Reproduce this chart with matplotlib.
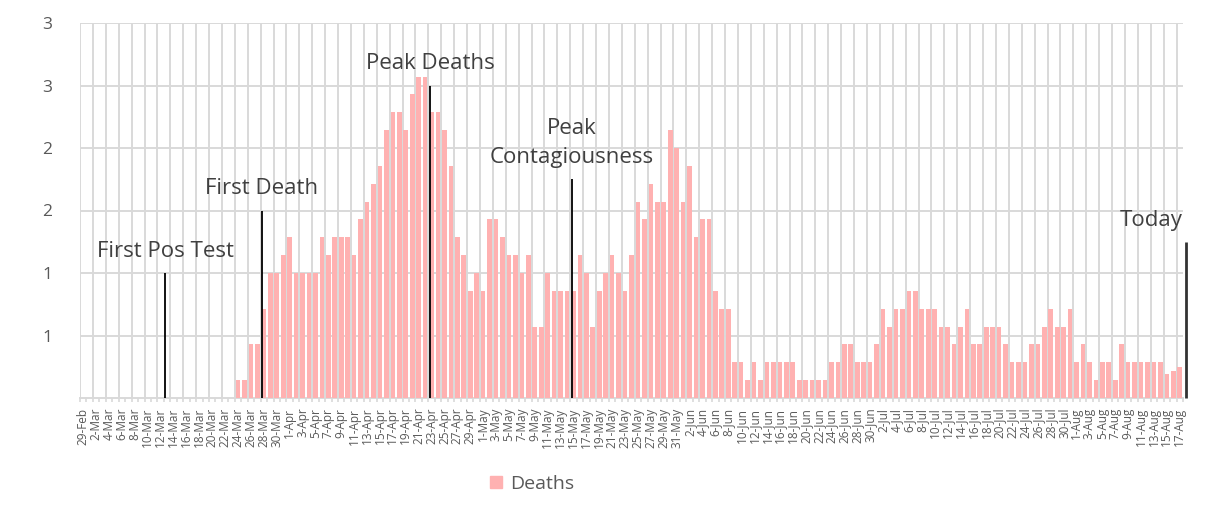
import matplotlib
matplotlib.use("Agg")
import matplotlib.pyplot as plt
import numpy as np
import pandas as pd

plt.rcParams['font.family'] = ['Open Sans', 'DejaVu Sans']

# ---- data ----
start_date = "2020-02-29"
end_date = "2020-08-17"
dates = pd.date_range(start_date, end_date, freq="D")
categories = [f"{d.day}-{d.strftime('%b')}" for d in dates]

deaths = [
    # 29-Feb .. 23-Mar
    0, 0, 0, 0, 0, 0, 0, 0, 0, 0, 0, 0, 0, 0, 0, 0, 0, 0, 0, 0, 0, 0, 0, 0,
    # 24-Mar .. 31-Mar
    0.143, 0.143, 0.429, 0.429, 0.714, 1.0, 1.0, 1.143,
    # 1-Apr .. 30-Apr
    1.286, 1.0, 1.0, 1.0, 1.0, 1.286, 1.143, 1.286, 1.286, 1.286,
    1.143, 1.429, 1.571, 1.714, 1.857, 2.143, 2.286, 2.286, 2.143, 2.429,
    2.571, 2.571, 2.286, 2.286, 2.143, 1.857, 1.286, 1.143, 0.857, 1.0,
    # 1-May .. 31-May
    0.857, 1.429, 1.429, 1.286, 1.143, 1.143, 1.0, 1.143, 0.571, 0.571,
    1.0, 0.857, 0.857, 0.857, 0.857, 1.143, 1.0, 0.571, 0.857, 1.0,
    1.143, 1.0, 0.857, 1.143, 1.571, 1.429, 1.714, 1.571, 1.571, 2.143,
    2.0,
    # 1-Jun .. 30-Jun
    1.571, 1.857, 1.286, 1.429, 1.429, 0.857, 0.714, 0.714, 0.286, 0.286,
    0.143, 0.286, 0.143, 0.286, 0.286, 0.286, 0.286, 0.286, 0.143, 0.143,
    0.143, 0.143, 0.143, 0.286, 0.286, 0.429, 0.429, 0.286, 0.286, 0.286,
    # 1-Jul .. 31-Jul
    0.429, 0.714, 0.571, 0.714, 0.714, 0.857, 0.857, 0.714, 0.714, 0.714,
    0.571, 0.571, 0.429, 0.571, 0.714, 0.429, 0.429, 0.571, 0.571, 0.571,
    0.429, 0.286, 0.286, 0.286, 0.429, 0.429, 0.571, 0.714, 0.571, 0.571,
    0.714,
    # 1-Aug .. 17-Aug
    0.286, 0.429, 0.286, 0.143, 0.286, 0.286, 0.143, 0.429, 0.286, 0.286,
    0.286, 0.286, 0.286, 0.286, 0.19, 0.22, 0.25,
]

event_labels = ["First Pos Test", "First Death", "Peak Deaths",
                "Peak\nContagiousness", "Today"]
event_pos = [12.7, 27.7, 53.8, 75.8, 171.0]
event_height = [1.0, 1.5, 2.5, 1.75, 1.25]

y_ticks = [0, 0.5, 1.0, 1.5, 2.0, 2.5, 3.0]
y_tick_labels = ["", "1", "1", "2", "2", "3", "3"]

# ---- styling ----
BAR = "#FFB1B1"
GRID = "#D9D9D9"
TXT = "#595959"
ANN = "#404040"

fig = plt.figure(figsize=(12.15, 5.05), dpi=100)
ax = fig.add_axes([80 / 1215, 1 - 398 / 505, 1103 / 1215, 375 / 505])

n = len(categories)
x = np.arange(n)

# gridlines
for yv in y_ticks[1:]:
    ax.axhline(yv, color=GRID, lw=1.4, zorder=0)
for b in np.arange(-0.5, n - 0.5, 2):
    ax.axvline(b, color=GRID, lw=1.4, zorder=0)

ax.bar(x, deaths, width=0.72, color=BAR, zorder=2, label="Deaths")

# event lines and labels
for lab, px, h in zip(event_labels, event_pos, event_height):
    is_today = lab == "Today"
    ax.plot([px, px], [0, h], color="#333333" if is_today else "black",
            lw=2.0 if is_today else 1.3, zorder=3, clip_on=False,
            solid_capstyle="butt")
    if is_today:
        ax.annotate(lab, xy=(n - 0.6, h), xytext=(0, 8), textcoords="offset points",
                    ha="right", va="bottom", fontsize=16, color=ANN)
    else:
        ax.annotate(lab, xy=(px, h), xytext=(0, 8), textcoords="offset points",
                    ha="center", va="bottom", fontsize=16, color=ANN,
                    linespacing=1.5, multialignment="center")

ax.set_xlim(-0.5, n - 0.5)
ax.set_ylim(0, 3)

ax.set_yticks(y_ticks)
ax.set_yticklabels(y_tick_labels)
ax.tick_params(axis="y", length=0, pad=20, labelsize=12.5, labelcolor=TXT)

ax.set_xticks(x[::2])
ax.set_xticklabels(categories[::2], rotation=90, fontsize=8.5, color=TXT)
ax.set_xticks(np.arange(-0.5, n, 1), minor=True)
ax.tick_params(axis="x", which="major", length=0, pad=7)
ax.tick_params(axis="x", which="minor", length=3, width=1.2, color=GRID)

for s in ["top", "right", "left"]:
    ax.spines[s].set_visible(False)
ax.spines["bottom"].set_color(GRID)
ax.spines["bottom"].set_linewidth(1.4)
ax.spines["bottom"].set_zorder(1)

leg = fig.legend(handles=[plt.Rectangle((0, 0), 1, 1, color=BAR)], labels=["Deaths"],
                 loc="center", bbox_to_anchor=(532 / 1215, 1 - 484 / 505),
                 frameon=False, fontsize=14, handlelength=0.6, handleheight=0.6,
                 handletextpad=0.4)
for t in leg.get_texts():
    t.set_color(TXT)

fig.savefig("out.png", dpi=100)
